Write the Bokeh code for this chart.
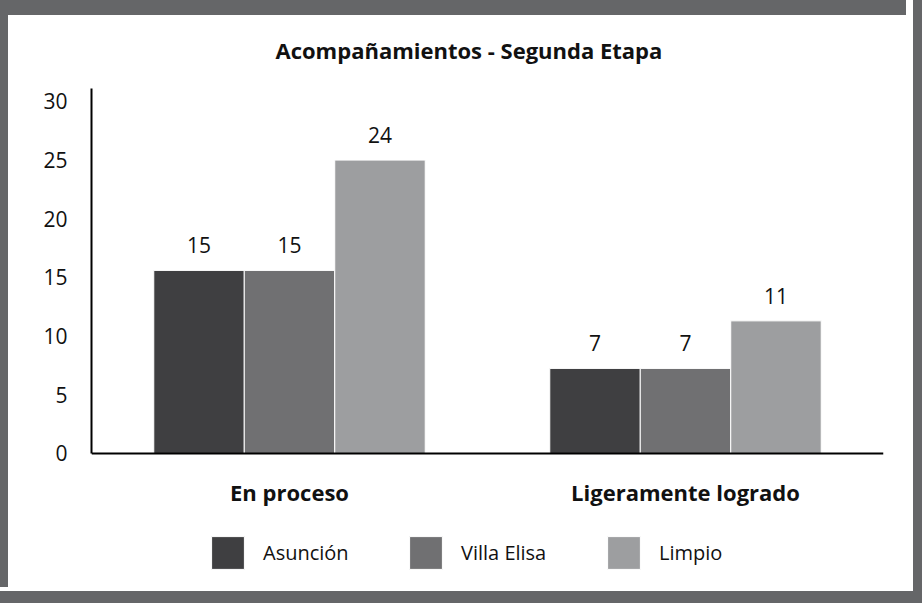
from bokeh.plotting import figure
from bokeh.models import (FactorRange, Range1d, Legend, LegendItem, Title, FixedTicker,
                          ColumnDataSource, Span)
from bokeh.transform import dodge
from bokeh.core.properties import value
from bokeh.embed import file_html
from bokeh.resources import INLINE

# ---- data ----
title_text = "Acompañamientos - Segunda Etapa"
categories = ["En proceso", "Ligeramente logrado"]
series_names = ["Asunción", "Villa Elisa", "Limpio"]
# printed data labels
asuncion_labels = ["15", "7"]
villa_elisa_labels = ["15", "7"]
limpio_labels = ["24", "11"]
# bar heights as drawn against the axis
asuncion = [15.6, 7.25]
villa_elisa = [15.6, 7.25]
limpio = [25.0, 11.3]
y_ticks = [0, 5, 10, 15, 20, 25, 30]

colors = ["#3f3f41", "#707072", "#9d9ea0"]
FONT = "Open Sans"
FRAME_GRAY = "#656668"
Y_TOP = 31.1
Y_BOTTOM = -11.42   # room under the axis for category labels and legend

src = ColumnDataSource(dict(
    cat=categories, zero=[0] * len(categories),
    asu=asuncion, vil=villa_elisa, lim=limpio,
    asu_l=asuncion_labels, vil_l=villa_elisa_labels, lim_l=limpio_labels,
))

p = figure(
    x_range=FactorRange(*categories),
    y_range=Range1d(Y_BOTTOM, Y_TOP),
    width=906, height=587,
    output_backend="svg", toolbar_location=None,
    x_axis_location=None,
    min_border_left=91, min_border_right=23,
    min_border_top=88, min_border_bottom=0,
)
p.title = Title(text=title_text, align="left", offset=184,
                text_font=FONT, text_font_size="22px", text_font_style="bold",
                text_color="#111111", standoff=48)

p.border_fill_color = None
p.background_fill_color = None
p.outline_line_color = None
p.styles = {
    "background-color": "white",
    "box-shadow": (
        f"3px 0 0 4px white, 0 0 0 16px {FRAME_GRAY}, "
        f"inset 8px 0 0 0 {FRAME_GRAY}, inset 0 15px 0 0 {FRAME_GRAY}"
    ),
}

offsets = [-0.2285, 0.0, 0.2285]
fields = ["asu", "vil", "lim"]
label_fields = ["asu_l", "vil_l", "lim_l"]
renderers = []
for name, f, lf, off, c in zip(series_names, fields, label_fields, offsets, colors):
    r = p.vbar(x=dodge("cat", off, range=p.x_range), top=f, bottom=0, width=0.2285,
               source=src, fill_color=c, line_color="white", line_width=1)
    renderers.append(r)
    p.text(x=dodge("cat", off, range=p.x_range), y=f, text=lf, source=src,
           text_font=value(FONT), text_font_size="21px", text_color="#111111",
           text_align="center", text_baseline="middle", y_offset=-25)

# category labels under the baseline
p.text(x="cat", y="zero", text="cat", source=src,
       text_font=value(FONT), text_font_size="22px", text_font_style="bold",
       text_color="#111111", text_align="center", text_baseline="middle", y_offset=39)

# x axis baseline
p.add_layout(Span(location=0, dimension="width", line_color="black", line_width=2))

p.xgrid.grid_line_color = None
p.ygrid.grid_line_color = None

ax = p.yaxis
ax.bounds = (0, Y_TOP)
ax.axis_line_color = "black"
ax.axis_line_width = 2
ax.major_tick_in = 0
ax.major_tick_out = 0
ax.minor_tick_line_color = None
ax.major_tick_line_color = None
ax.major_label_text_font = FONT
ax.major_label_text_color = "#111111"
ax.ticker = FixedTicker(ticks=y_ticks)
ax.major_label_text_font_size = "21px"
ax.major_label_standoff = 24

legend = Legend(
    items=[LegendItem(label=n, renderers=[r]) for n, r in zip(series_names, renderers)],
    orientation="horizontal", location=(116, 14),
    glyph_width=41, glyph_height=41, label_standoff=15, spacing=26, label_width=116,
    padding=0, margin=0, border_line_color=None, background_fill_alpha=0,
    label_text_font=FONT, label_text_font_size="20px", label_text_color="#111111",
)
p.add_layout(legend)

open("out.html", "w").write(file_html(p, INLINE))
